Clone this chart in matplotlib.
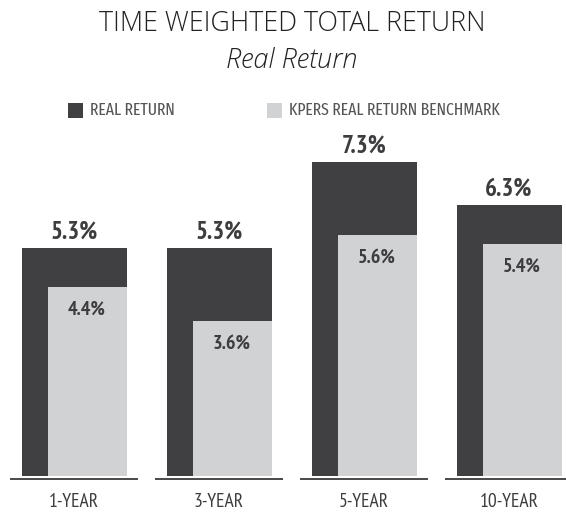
import matplotlib
matplotlib.use("Agg")
import matplotlib.pyplot as plt
from matplotlib.patches import Rectangle

categories = ["1-YEAR", "3-YEAR", "5-YEAR", "10-YEAR"]
real_return = [5.3, 5.3, 7.3, 6.3]
benchmark = [4.4, 3.6, 5.6, 5.4]
series_names = ["REAL RETURN", "KPERS REAL RETURN BENCHMARK"]
title = "TIME WEIGHTED TOTAL RETURN"
subtitle = "Real Return"

DARK = "#404042"
LIGHT = "#d1d2d4"
TXT = "#3d3d3f"
NARROW = ["PT Sans Narrow", "DejaVu Sans"]
LEG = ["Fira Sans Extra Condensed", "DejaVu Sans"]

W, H = 566, 513
fig = plt.figure(figsize=(W / 100, H / 100), dpi=100)

# axes geometry in pixels
px_per_unit_x = 145.0
x0_px = 74.0
px_per_pct = 43.0
base_px = 476.0  # from top
ymin, ymax = -1.0, 8.0
ax_bottom_px = base_px - ymin * px_per_pct  # from top
ax_top_px = base_px - ymax * px_per_pct
ax = fig.add_axes([0, (H - ax_bottom_px) / H, 1, (ax_bottom_px - ax_top_px) / H])
ax.set_xlim(-x0_px / px_per_unit_x, (W - x0_px) / px_per_unit_x)
ax.set_ylim(ymin, ymax)
ax.axis("off")

dark_w = 105 / px_per_unit_x
light_w = 79 / px_per_unit_x
right = dark_w / 2
xs = list(range(len(categories)))

ax.bar([x - right for x in xs], real_return, width=dark_w, align="edge", color=DARK, zorder=2)
ax.bar([x + right - light_w for x in xs], benchmark, width=light_w, align="edge", color=LIGHT, zorder=3)

line_y = -3 / px_per_pct
for x in xs:
    ax.plot([x - 0.442, x + 0.442], [line_y, line_y], color="#3a3a3a", lw=1.3, zorder=1,
            solid_capstyle="butt")
    ax.text(x, -31 / px_per_pct, categories[x], ha="center", va="baseline",
            fontsize=14, color=TXT, family=NARROW)

for x, v in zip(xs, real_return):
    ax.annotate(f"{v:.1f}%", (x, v), xytext=(0, 6.5), textcoords="offset points",
                ha="center", va="baseline", fontsize=18, fontweight="bold",
                color=TXT, family=NARROW)
for x, v in zip(xs, benchmark):
    ax.annotate(f"{v:.1f}%", (x + right - light_w / 2, v), xytext=(0, -20),
                textcoords="offset points", ha="center", va="baseline", fontsize=14.5,
                fontweight="bold", color=TXT, family=NARROW)

fig.text(292 / W, 1 - 24 / H, title, ha="center", va="center", fontsize=19.3,
         fontweight="light", color="#222222", family=["Open Sans", "DejaVu Sans"])
fig.text(292 / W, 1 - 60 / H, subtitle, ha="center", va="center", fontsize=19.5,
         fontstyle="italic", fontweight="light", color="#222222", family=["Open Sans", "DejaVu Sans"])

# legend
for (lx, col, name, tx) in [(68, DARK, series_names[0], 90), (267, LIGHT, series_names[1], 289)]:
    fig.patches.append(Rectangle((lx / W, 1 - 118 / H), 15 / W, 15 / H, transform=fig.transFigure,
                                 facecolor=col, edgecolor="none"))
    fig.text(tx / W, 1 - 110.5 / H, name, ha="left", va="center", fontsize=12.3,
             fontweight="normal", color="#555557", family=LEG)

fig.savefig("out.png", dpi=100, facecolor="white")
